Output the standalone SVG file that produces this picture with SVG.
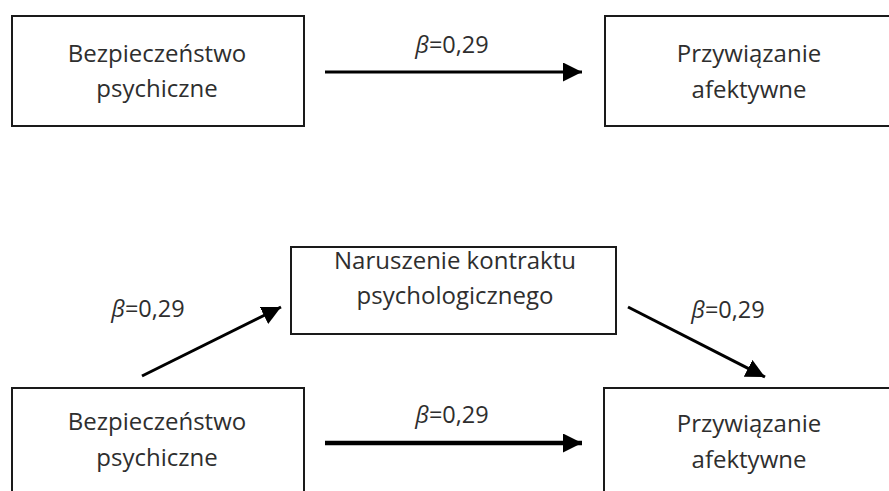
<svg xmlns="http://www.w3.org/2000/svg" width="889" height="491" viewBox="0 0 889 491">
<defs>
<style>
.box{fill:#fff;stroke:#1a1a1a;stroke-width:2}
.t{font-family:"Open Sans","Liberation Sans",sans-serif;font-size:24px;fill:#2e2e2e;text-anchor:middle}
.lbl{font-family:"Open Sans","Liberation Sans",sans-serif;font-size:23.5px;fill:#2e2e2e;text-anchor:middle}
.b{font-style:italic}
.c{stroke:#000;fill:none}
</style>
<marker id="ah" viewBox="0 0 10 10" refX="10" refY="5" markerUnits="userSpaceOnUse" markerWidth="19" markerHeight="19" orient="auto">
<path d="M0,0 L10,5 L0,10 Z" fill="#000"/>
</marker>
</defs>
<rect width="889" height="491" fill="#fff"/>
<g id="top-bezpieczenstwo">
<rect class="box" x="12" y="16" width="292" height="110"/>
<text class="t" x="157" y="62">Bezpieczeństwo</text>
<text class="t" x="157" y="97">psychiczne</text>
</g>
<g id="top-przywiazanie">
<rect class="box" x="605" y="16" width="300" height="110"/>
<text class="t" x="749" y="62">Przywiązanie</text>
<text class="t" x="749" y="98">afektywne</text>
</g>
<g id="naruszenie">
<rect class="box" x="291" y="247" width="325" height="87"/>
<text class="t" x="455" y="269">Naruszenie kontraktu</text>
<text class="t" x="455" y="304">psychologicznego</text>
</g>
<g id="bottom-bezpieczenstwo">
<rect class="box" x="12" y="388" width="292" height="120"/>
<text class="t" x="157" y="430">Bezpieczeństwo</text>
<text class="t" x="157" y="466">psychiczne</text>
</g>
<g id="bottom-przywiazanie">
<rect class="box" x="604" y="388" width="300" height="120"/>
<text class="t" x="749" y="432">Przywiązanie</text>
<text class="t" x="749" y="468">afektywne</text>
</g>
<g id="connectors">
<line class="c" x1="325" y1="72" x2="582" y2="72" stroke-width="3" marker-end="url(#ah)"/>
<line class="c" x1="325" y1="443" x2="582" y2="443" stroke-width="4.5" marker-end="url(#ah)"/>
<line class="c" x1="142" y1="376" x2="281" y2="307" stroke-width="3" marker-end="url(#ah)"/>
<line class="c" x1="628" y1="307" x2="765" y2="377" stroke-width="3" marker-end="url(#ah)"/>
<text class="lbl" x="452" y="53"><tspan class="b">β</tspan>=0,29</text>
<text class="lbl" x="452" y="423"><tspan class="b">β</tspan>=0,29</text>
<text class="lbl" x="148" y="317"><tspan class="b">β</tspan>=0,29</text>
<text class="lbl" x="728" y="318"><tspan class="b">β</tspan>=0,29</text>
</g>
</svg>
